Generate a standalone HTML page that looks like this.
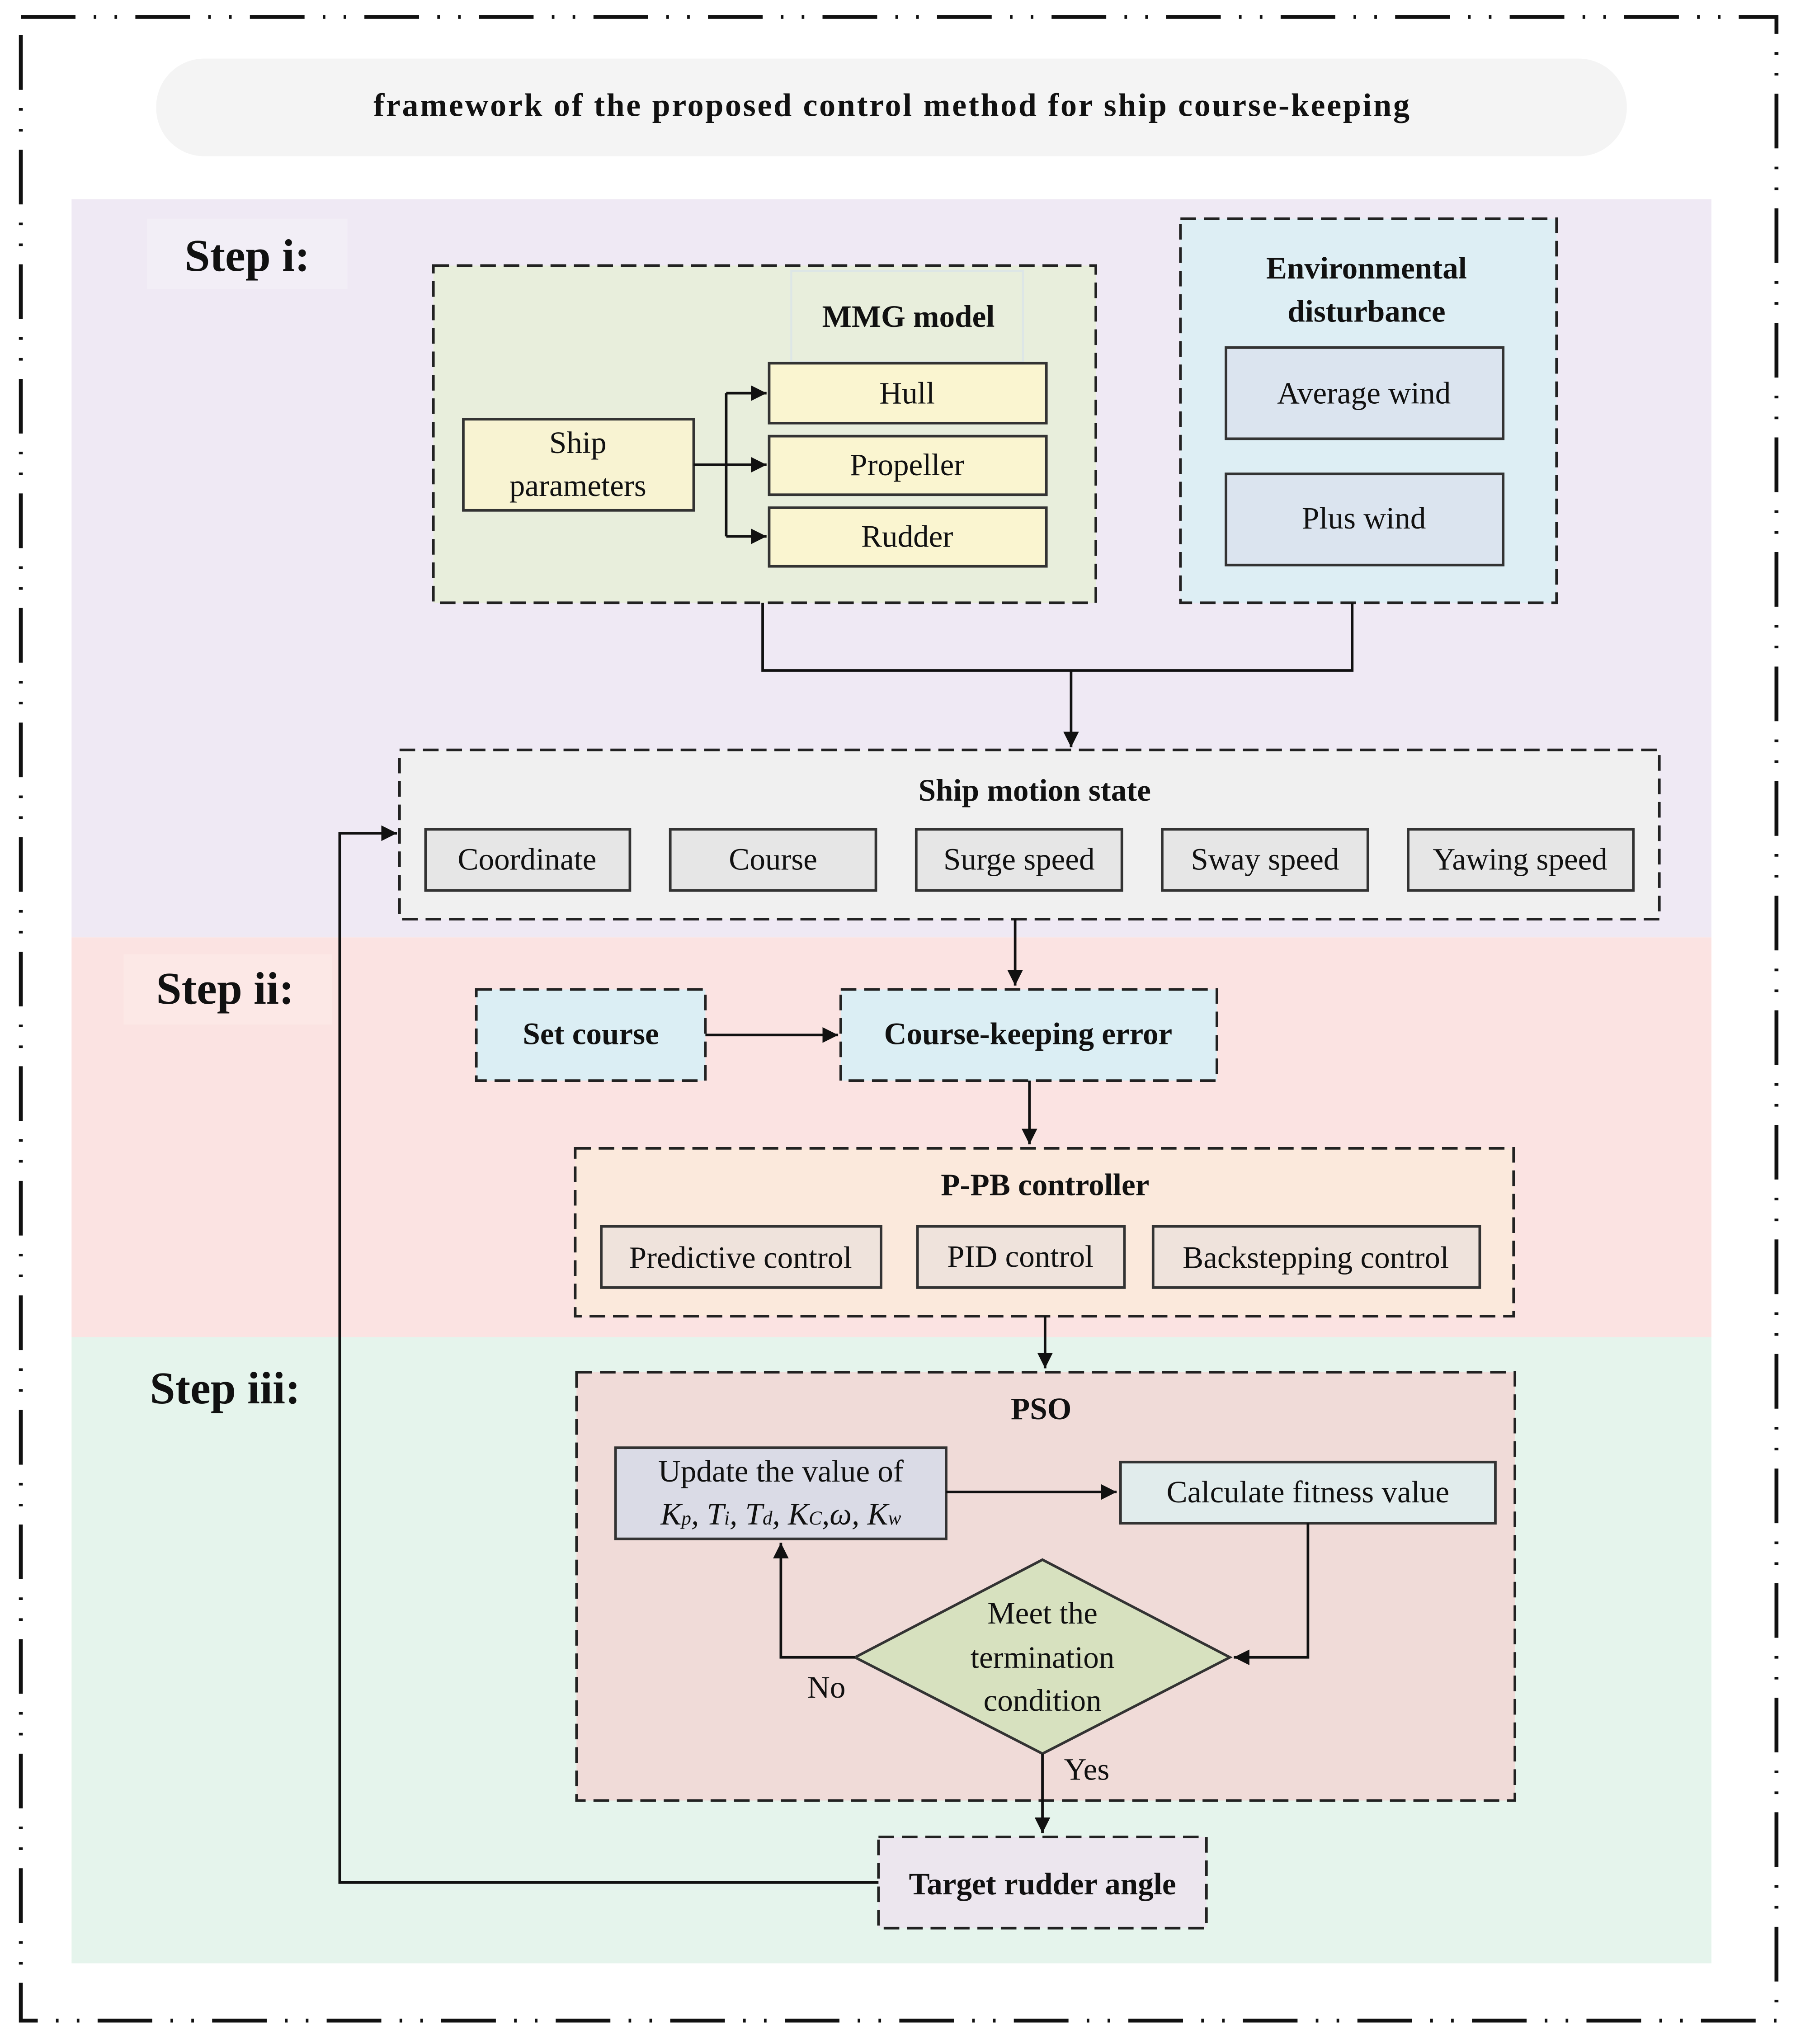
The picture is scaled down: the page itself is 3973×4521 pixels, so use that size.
<!DOCTYPE html>
<html><head><meta charset="utf-8"><style>html,body{margin:0;padding:0;background:#fff}svg{display:block}text{font-family:"Liberation Serif",serif;fill:#111}</style></head>
<body>
<svg width="3973" height="4521" viewBox="0 0 1380 1570" preserveAspectRatio="none" xmlns="http://www.w3.org/2000/svg">
<defs><marker id="a" viewBox="0 0 10 10" refX="10" refY="5" markerWidth="6" markerHeight="6" orient="auto"><path d="M0,0L10,5L0,10z" fill="#111"/></marker></defs>
<rect width="1380" height="1570" fill="#fff"/>
<rect x="16" y="13" width="1349" height="1539" fill="none" stroke="#111" stroke-width="3" stroke-dasharray="42,14,2,14,2,14"/>
<rect x="120" y="45" width="1130" height="75" rx="37" fill="#f4f4f4"/>
<text x="287" y="89" font-size="25" font-weight="bold" textLength="796" lengthAdjust="spacing">framework of the proposed control method for ship course-keeping</text>
<rect x="55" y="153" width="1260" height="567" fill="#efe9f4"/>
<rect x="55" y="720" width="1260" height="307" fill="#fbe3e2"/>
<rect x="55" y="1027" width="1260" height="481" fill="#e5f4ec"/>
<rect x="113" y="168" width="154" height="54" fill="#f2eef6"/>
<text x="190" y="208" font-size="35" font-weight="bold" text-anchor="middle">Step i:</text>
<rect x="95" y="733" width="160" height="54" fill="#fce8e6"/>
<text x="173" y="771" font-size="35" font-weight="bold" text-anchor="middle">Step ii:</text>
<text x="173" y="1078" font-size="35" font-weight="bold" text-anchor="middle">Step iii:</text>
<g stroke="#222" stroke-width="2" stroke-dasharray="12,6">
<rect x="333" y="204" width="509" height="259" fill="#e8eedc"/>
<rect x="907" y="168" width="289" height="295" fill="#ddeef4"/>
<rect x="307" y="576" width="968" height="130" fill="#f0f0f0"/>
<rect x="366" y="760" width="176" height="70" fill="#dbeef4"/>
<rect x="646" y="760" width="289" height="70" fill="#dbeef4"/>
<rect x="442" y="882" width="721" height="129" fill="#fbe9dc"/>
<rect x="443" y="1054" width="721" height="329" fill="#f0dbd8"/>
<rect x="675" y="1411" width="252" height="70" fill="#ece6ee"/>
</g>
<rect x="608" y="208" width="178" height="70" fill="none" stroke="#dde6e6" stroke-width="1.5"/>
<text x="698" y="251" font-size="24" font-weight="bold" text-anchor="middle">MMG model</text>
<g stroke="#333" stroke-width="2">
<rect x="356" y="322" width="177" height="70" fill="#f8f3d2"/>
<rect x="591" y="279" width="213" height="46" fill="#faf5d0"/>
<rect x="591" y="335" width="213" height="45" fill="#faf5d0"/>
<rect x="591" y="390" width="213" height="45" fill="#faf5d0"/>
<rect x="942" y="267" width="213" height="70" fill="#dbe4ef"/>
<rect x="942" y="364" width="213" height="70" fill="#dbe4ef"/>
<g fill="#e6e6e6"><rect x="327" y="637" width="157" height="47"/><rect x="515" y="637" width="158" height="47"/><rect x="704" y="637" width="158" height="47"/><rect x="893" y="637" width="158" height="47"/><rect x="1082" y="637" width="173" height="47"/></g>
<g fill="#efe3dc"><rect x="462" y="942" width="215" height="47"/><rect x="705" y="942" width="159" height="47"/><rect x="886" y="942" width="251" height="47"/></g>
<rect x="473" y="1112" width="254" height="70" fill="#dadbe6"/>
<rect x="861" y="1123" width="288" height="47" fill="#e1ecec"/>
<path d="M801,1198L945,1273L801,1347L657,1273z" fill="#d7e1bf"/>
</g>
<g font-size="24" text-anchor="middle">
<text x="444" y="348">Ship</text><text x="444" y="381">parameters</text>
<text x="697" y="310">Hull</text><text x="697" y="365">Propeller</text><text x="697" y="420">Rudder</text>
<text x="1050" y="214" font-weight="bold">Environmental</text><text x="1050" y="247" font-weight="bold">disturbance</text>
<text x="1048" y="310">Average wind</text><text x="1048" y="406">Plus wind</text>
<text x="795" y="615" font-weight="bold">Ship motion state</text>
<text x="405" y="668">Coordinate</text><text x="594" y="668">Course</text><text x="783" y="668">Surge speed</text><text x="972" y="668">Sway speed</text><text x="1168" y="668">Yawing speed</text>
<text x="454" y="802" font-weight="bold">Set course</text><text x="790" y="802" font-weight="bold">Course-keeping error</text>
<text x="803" y="918" font-weight="bold">P-PB controller</text>
<text x="569" y="974">Predictive control</text><text x="784" y="973">PID control</text><text x="1011" y="974">Backstepping control</text>
<text x="800" y="1090" font-weight="bold">PSO</text>
<text x="600" y="1138">Update the value of</text>
<text x="600" y="1171" font-style="italic">K<tspan font-size="15">p</tspan>, T<tspan font-size="15">i</tspan>, T<tspan font-size="15">d</tspan>, K<tspan font-size="15">C</tspan>,ω, K<tspan font-size="15">w</tspan></text>
<text x="1005" y="1154">Calculate fitness value</text>
<text x="801" y="1247">Meet the</text><text x="801" y="1281">termination</text><text x="801" y="1314">condition</text>
<text x="635" y="1304">No</text><text x="835" y="1367">Yes</text>
<text x="801" y="1455" font-weight="bold">Target rudder angle</text>
</g>
<g stroke="#111" stroke-width="2" fill="none">
<path d="M533,357H558"/><path d="M558,302V412"/>
<path d="M558,302H589" marker-end="url(#a)"/><path d="M558,357H589" marker-end="url(#a)"/><path d="M558,412H589" marker-end="url(#a)"/>
<path d="M586,463V515H1039V463"/><path d="M823,515V574" marker-end="url(#a)"/>
<path d="M780,706V757" marker-end="url(#a)"/>
<path d="M542,795H644" marker-end="url(#a)"/>
<path d="M791,830V879" marker-end="url(#a)"/>
<path d="M803,1011V1051" marker-end="url(#a)"/>
<path d="M727,1146H858" marker-end="url(#a)"/>
<path d="M1005,1170V1273H948" marker-end="url(#a)"/>
<path d="M657,1273H600V1185" marker-end="url(#a)"/>
<path d="M801,1347V1408" marker-end="url(#a)"/>
<path d="M675,1446H261V640H305" marker-end="url(#a)"/>
</g>
</svg>
</body></html>
